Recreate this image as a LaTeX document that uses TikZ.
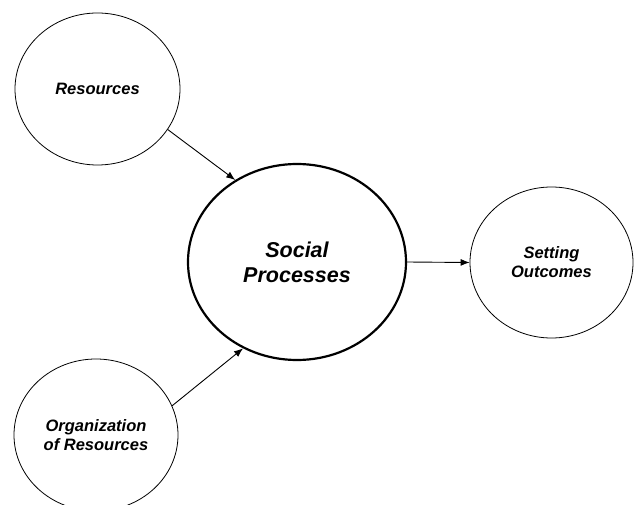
\documentclass[tikz,border=0pt]{standalone}
\usepackage{fontspec}
\setsansfont{Liberation Sans}
\usetikzlibrary{
	arrows.meta,
	shapes.geometric
}
\tikzset{
	>={Latex[length=9pt,width=7pt]},
	graphedge/.style={line width=0.9pt},
	smallnode/.style={ellipse, draw, line width=0.8pt, inner sep=0pt, align=center,
		font=\sffamily\bfseries\itshape\fontsize{16.5}{19}\selectfont},
	bignode/.style={ellipse, draw, line width=2.2pt, inner sep=0pt, align=center,
		font=\sffamily\bfseries\itshape\fontsize{21.5}{25}\selectfont}
}
\begin{document}
\begin{tikzpicture}[x=1pt, y=-1pt]
	\useasboundingbox (0,0) rectangle (635,505);
	\node[smallnode, minimum width=165, minimum height=152] (resources) at (97.5,89) {Resources};
	\node[bignode, minimum width=218, minimum height=196] (social) at (297,262) {Social\\Processes};
	\node[smallnode, minimum width=163, minimum height=151] (outcomes) at (551.5,262.5) {Setting\\Outcomes};
	\node[smallnode, minimum width=164, minimum height=152] (organization) at (96,435) {Organization\\of Resources};

	\draw[graphedge,->] (resources.-30) -- (social.127);
	\draw[graphedge,->] (organization.21) -- (social.-122);
	\draw[graphedge,->] (social.east) -- (outcomes.west);
\end{tikzpicture}
\end{document}
